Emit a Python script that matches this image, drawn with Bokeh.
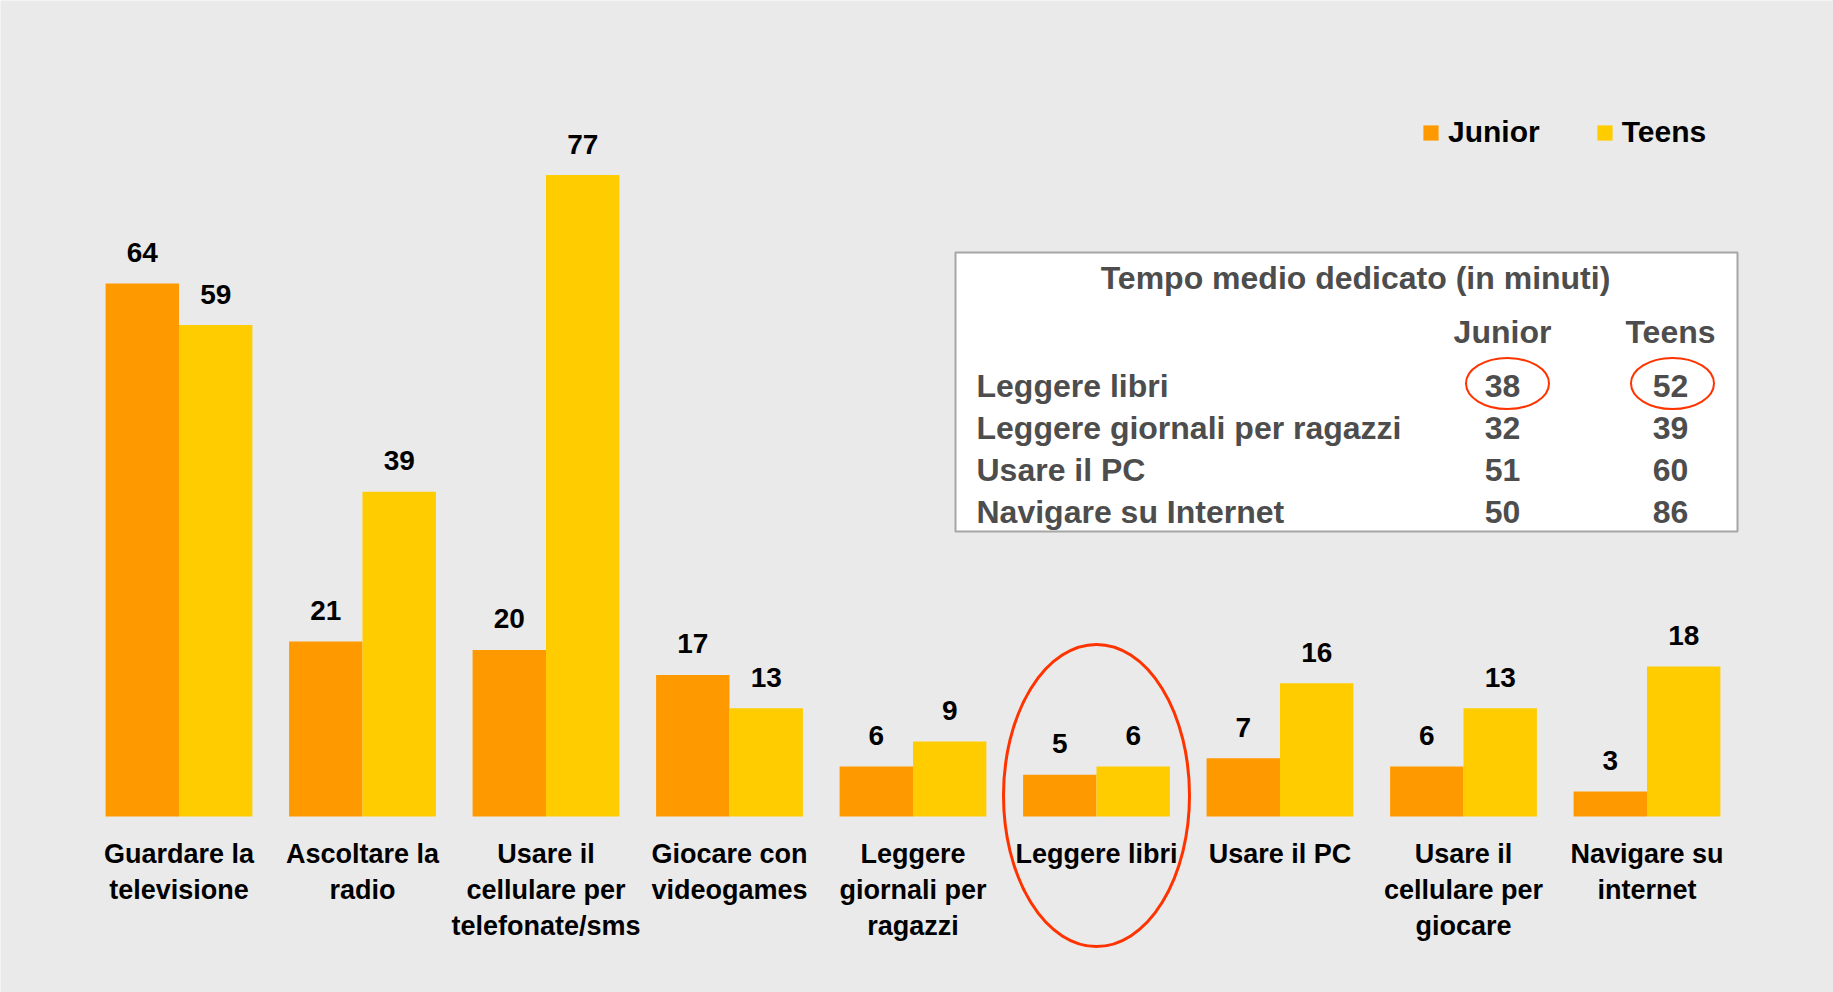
from bokeh.plotting import figure
from bokeh.models import ColumnDataSource, Range1d, Legend, LegendItem
from bokeh.core.properties import value
from bokeh.embed import file_html
from bokeh.resources import INLINE

# ---------------- data ----------------
categories = ["Guardare la\ntelevisione", "Ascoltare la\nradio", "Usare il\ncellulare per\ntelefonate/sms",
              "Giocare con\nvideogames", "Leggere\ngiornali per\nragazzi", "Leggere libri",
              "Usare il PC", "Usare il\ncellulare per\ngiocare", "Navigare su\ninternet"]
junior = [64, 21, 20, 17, 6, 5, 7, 6, 3]
teens = [59, 39, 77, 13, 9, 6, 16, 13, 18]
series_names = ["Junior", "Teens"]

table_title = "Tempo medio dedicato (in minuti)"
table_rows = ["Leggere libri", "Leggere giornali per ragazzi", "Usare il PC", "Navigare su Internet"]
table_junior = [38, 32, 51, 50]
table_teens = [52, 39, 60, 86]
highlight_category = 5  # "Leggere libri"

# ---------------- layout / style ----------------
FONT = "Liberation Sans"
C_JUN = "#FF9900"
C_TEE = "#FFCC00"
BG = "#EAEAEA"
RED = "#FF3300"
W, H = 1833, 992
PXU = 183.5      # px per category
PYU = 8.33       # px per value unit
XC0 = 178.5      # pixel centre of first category
YB = 816         # pixel of value 0

def dx(px):   # page x pixel -> data x
    return (px - XC0) / PXU

def dy(py):   # page y pixel -> data y
    return (YB - py) / PYU

p = figure(width=W, height=H, output_backend="svg", toolbar_location=None,
           x_range=Range1d(dx(0), dx(W)), y_range=Range1d(dy(H), dy(0)),
           x_axis_location=None, y_axis_location=None, min_border=0,
           background_fill_color=BG, border_fill_color=BG, outline_line_color=None)
p.grid.visible = False

idx = list(range(len(categories)))
src = ColumnDataSource(dict(
    xj=[i - 0.2 for i in idx], xt=[i + 0.2 for i in idx],
    junior=junior, teens=teens,
    lj=[str(v) for v in junior], lt=[str(v) for v in teens]))

rj = p.vbar(x="xj", top="junior", width=0.4, bottom=0, source=src, fill_color=C_JUN, line_color=None)
rt = p.vbar(x="xt", top="teens", width=0.4, bottom=0, source=src, fill_color=C_TEE, line_color=None)

for xcol, ycol, lcol in (("xj", "junior", "lj"), ("xt", "teens", "lt")):
    p.text(x=xcol, y=ycol, text=lcol, source=src, text_align="center", text_baseline="middle",
           y_offset=-31, text_font=value(FONT), text_font_style="bold", text_font_size="28px",
           text_color="black")

# category labels (one text row per line, below the value-0 baseline)
max_lines = max(len(c.split("\n")) for c in categories)
for k in range(max_lines):
    xs, ts = [], []
    for i, c in enumerate(categories):
        lines = c.split("\n")
        if k < len(lines):
            xs.append(i)
            ts.append(lines[k])
    p.text(x=xs, y=[0] * len(xs), text=ts, text_align="center", text_baseline="middle",
           y_offset=37 + 36 * k, text_font=value(FONT), text_font_style="bold",
           text_font_size="27px", text_color="black")

# legend
legend = Legend(items=[LegendItem(label=series_names[0], renderers=[rj]),
                       LegendItem(label=series_names[1], renderers=[rt])],
                orientation="horizontal", location=(1421, H - 149),
                glyph_width=19, glyph_height=19, label_standoff=8, spacing=55,
                padding=0, margin=0, border_line_alpha=0, background_fill_alpha=0,
                label_text_font=FONT, label_text_font_style="bold", label_text_font_size="30px",
                label_text_color="black")
p.add_layout(legend)

# big ellipse around highlighted category
p.ellipse(x=[highlight_category], y=[dy(795)], width=186, height=302,
          width_units="screen", height_units="screen",
          fill_color=None, line_color=RED, line_width=3)

# table box
p.quad(left=[dx(955)], right=[dx(1737)], top=[dy(252)], bottom=[dy(531)],
       fill_color="white", line_color="#A6A6A6", line_width=2)

TC = "#4D4D4D"
tkw = dict(text_font=value(FONT), text_font_style="bold", text_font_size="32px", text_color=TC,
           text_baseline="middle")
p.text(x=[dx(1355)], y=[dy(277)], text=[table_title], text_align="center", **tkw)
p.text(x=[dx(1502), dx(1670)], y=[dy(331)] * 2, text=series_names, text_align="center", **tkw)
row_y = [dy(v) for v in (385, 427, 469, 511)]
p.text(x=[dx(976)] * len(table_rows), y=row_y, text=table_rows, text_align="left", **tkw)
p.text(x=[dx(1502)] * len(table_rows), y=row_y, text=[str(v) for v in table_junior], text_align="center", **tkw)
p.text(x=[dx(1670)] * len(table_rows), y=row_y, text=[str(v) for v in table_teens], text_align="center", **tkw)

# circles around first table row values
p.ellipse(x=[dx(1507), dx(1672)], y=[dy(383)] * 2, width=83, height=51,
          width_units="screen", height_units="screen",
          fill_color=None, line_color=RED, line_width=2)

open("out.html", "w").write(file_html(p, INLINE))
